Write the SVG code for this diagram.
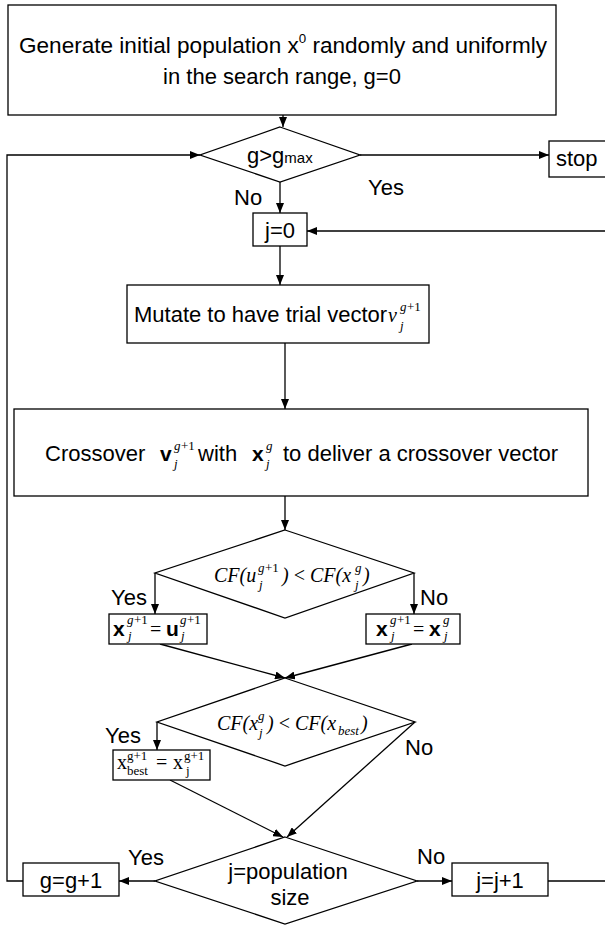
<svg xmlns="http://www.w3.org/2000/svg" width="605" height="925" viewBox="0 0 605 925">
<defs>
<marker id="ah" viewBox="0 0 10 8" refX="10" refY="4" markerWidth="10" markerHeight="8" markerUnits="userSpaceOnUse" orient="auto">
<path d="M0,0 L10,4 L0,8 Z" fill="#000"/>
</marker>
<style>
.box{fill:#fff;stroke:#000;stroke-width:1.3}
.ln{fill:none;stroke:#000;stroke-width:1.3}
.ar{fill:none;stroke:#000;stroke-width:1.3;marker-end:url(#ah)}
.t{font-family:"Liberation Sans",Arial,sans-serif;font-size:22px;fill:#000}
.c{text-anchor:middle}
.m{font-family:"Liberation Serif","Times New Roman",serif;font-style:italic;font-size:20px;fill:#000}
.ms{font-family:"Liberation Serif","Times New Roman",serif;font-style:italic;font-size:13px;fill:#000}
.r{font-family:"Liberation Serif","Times New Roman",serif;font-size:20px;fill:#000}
.rs{font-family:"Liberation Serif","Times New Roman",serif;font-size:13px;fill:#000}
.b{font-family:"Liberation Sans",Arial,sans-serif;font-weight:bold;font-size:21px;fill:#000}
</style>
</defs>

<g id="connectors">
<line class="ar" x1="283" y1="115" x2="283" y2="127"/>
<line class="ar" x1="360" y1="155" x2="549" y2="155"/>
<polyline class="ar" points="23,881 7,881 7,155 200,155"/>
<line class="ar" x1="280" y1="182" x2="280" y2="213"/>
<line class="ar" x1="605" y1="231" x2="307" y2="231"/>
<line class="ar" x1="280" y1="246" x2="280" y2="285"/>
<line class="ar" x1="285" y1="343" x2="285" y2="409"/>
<line class="ar" x1="285" y1="496" x2="285" y2="530"/>
<line class="ar" x1="155" y1="573" x2="155" y2="614"/>
<line class="ar" x1="414" y1="573" x2="414" y2="614"/>
<line class="ar" x1="160" y1="644" x2="285" y2="678"/>
<line class="ar" x1="412" y1="644" x2="285" y2="678"/>
<line class="ar" x1="157" y1="722" x2="157" y2="750"/>
<line class="ar" x1="415" y1="722" x2="287" y2="837"/>
<line class="ar" x1="170" y1="780" x2="283" y2="837"/>
<line class="ar" x1="155" y1="881" x2="119" y2="881"/>
<line class="ar" x1="417" y1="881" x2="452" y2="881"/>
<line class="ln" x1="548" y1="881" x2="605" y2="881"/>
<text class="t" x="234" y="205">No</text>
<text class="t" x="368" y="195">Yes</text>
<text class="t" x="111" y="605">Yes</text>
<text class="t" x="420" y="605">No</text>
<text class="t" x="105" y="743">Yes</text>
<text class="t" x="405" y="755">No</text>
<text class="t" x="128" y="865">Yes</text>
<text class="t" x="417" y="864">No</text>
</g>

<g id="init">
<rect class="box" x="8" y="5" width="548" height="110"/>
<text class="t" x="19" y="53" textLength="528" lengthAdjust="spacingAndGlyphs">Generate initial population x<tspan font-size="13" dy="-10">0</tspan><tspan dy="10"> randomly and uniformly</tspan></text>
<text class="t c" x="282" y="84">in the search range, g=0</text>
</g>

<g id="check-gmax">
<polygon class="box" points="280,127 360,155 280,182 200,155"/>
<text class="t" x="247" y="163">g&gt;g<tspan font-size="15">max</tspan></text>
</g>

<g id="stop">
<rect class="box" x="549" y="141" width="70" height="36"/>
<text class="t" x="556" y="166">stop</text>
</g>

<g id="j0">
<rect class="box" x="253" y="213" width="54" height="33"/>
<text class="t c" x="280" y="238">j=0</text>
</g>

<g id="mutate">
<rect class="box" x="127" y="285" width="302" height="58"/>
<text class="t" x="134" y="322" font-size="19">Mutate to have trial vector</text>
<text class="m" x="388" y="322">v</text>
<text class="ms" x="400" y="311">g</text><text class="rs" x="407" y="311">+1</text>
<text class="ms" x="400" y="330">j</text>
</g>

<g id="crossover">
<rect class="box" x="14" y="409" width="574" height="87"/>
<text class="t" x="45" y="461" font-size="23">Crossover</text>
<text class="b" x="160" y="461" font-size="22">v</text>
<text class="ms" x="174" y="450" font-size="14">g</text><text class="rs" x="181" y="450" font-size="14">+1</text>
<text class="ms" x="174" y="468" font-size="14">j</text>
<text class="t" x="198" y="461" font-size="23">with</text>
<text class="b" x="252" y="461" font-size="22">x</text>
<text class="ms" x="266" y="450" font-size="14">g</text>
<text class="ms" x="266" y="468" font-size="14">j</text>
<text class="t" x="283" y="461" font-size="23">to deliver a crossover vector</text>
</g>

<g id="check-u">
<polygon class="box" points="285,530 414,573 285,618 155,573"/>
<text class="m" x="214" y="582">CF(u</text>
<text class="ms" x="258" y="572">g</text><text class="rs" x="265" y="572">+1</text>
<text class="ms" x="259" y="589">j</text>
<text class="m" x="282" y="582">) <tspan font-style="normal">&lt;</tspan> CF(x</text>
<text class="ms" x="355" y="572">g</text>
<text class="ms" x="355" y="589">j</text>
<text class="m" x="363" y="582">)</text>
</g>

<g id="accept-u">
<rect class="box" x="109" y="614" width="98" height="30"/>
<text class="b" x="113" y="636">x</text>
<text class="ms" x="127" y="624">g</text><text class="rs" x="134" y="624">+1</text>
<text class="ms" x="128" y="640">j</text>
<text class="r" x="150" y="636">=</text>
<text class="b" x="166" y="636">u</text>
<text class="ms" x="180" y="624">g</text><text class="rs" x="187" y="624">+1</text>
<text class="ms" x="181" y="640">j</text>
</g>

<g id="keep-x">
<rect class="box" x="366" y="614" width="94" height="30"/>
<text class="b" x="376" y="636">x</text>
<text class="ms" x="390" y="624">g</text><text class="rs" x="397" y="624">+1</text>
<text class="ms" x="391" y="640">j</text>
<text class="r" x="413" y="636">=</text>
<text class="b" x="429" y="636">x</text>
<text class="ms" x="443" y="624">g</text>
<text class="ms" x="444" y="640">j</text>
</g>

<g id="check-best">
<polygon class="box" points="285,678 415,722 285,766 157,722"/>
<text class="m" x="217" y="730">CF(x</text>
<text class="ms" x="258" y="720">g</text>
<text class="ms" x="259" y="737">j</text>
<text class="m" x="267" y="730">) <tspan font-style="normal">&lt;</tspan> CF(x</text>
<text class="ms" x="338" y="735">best</text>
<text class="m" x="361" y="730">)</text>
</g>

<g id="update-best">
<rect class="box" x="113" y="750" width="97" height="30"/>
<text class="r" x="117" y="769" font-size="19">x</text>
<text class="rs" x="127" y="760">g+1</text>
<text class="rs" x="127" y="775">best</text>
<text class="r" x="156" y="769" font-size="19">=</text>
<text class="r" x="173" y="769" font-size="19">x</text>
<text class="rs" x="184" y="760">g+1</text>
<text class="rs" x="186" y="775">j</text>
</g>

<g id="check-size">
<polygon class="box" points="285,837 417,881 285,924 155,881"/>
<text class="t c" x="288" y="879">j=population</text>
<text class="t c" x="290" y="905">size</text>
</g>

<g id="g-inc">
<rect class="box" x="23" y="863" width="96" height="33"/>
<text class="t c" x="71" y="888">g=g+1</text>
</g>

<g id="j-inc">
<rect class="box" x="452" y="863" width="96" height="33"/>
<text class="t c" x="500" y="888">j=j+1</text>
</g>
</svg>
